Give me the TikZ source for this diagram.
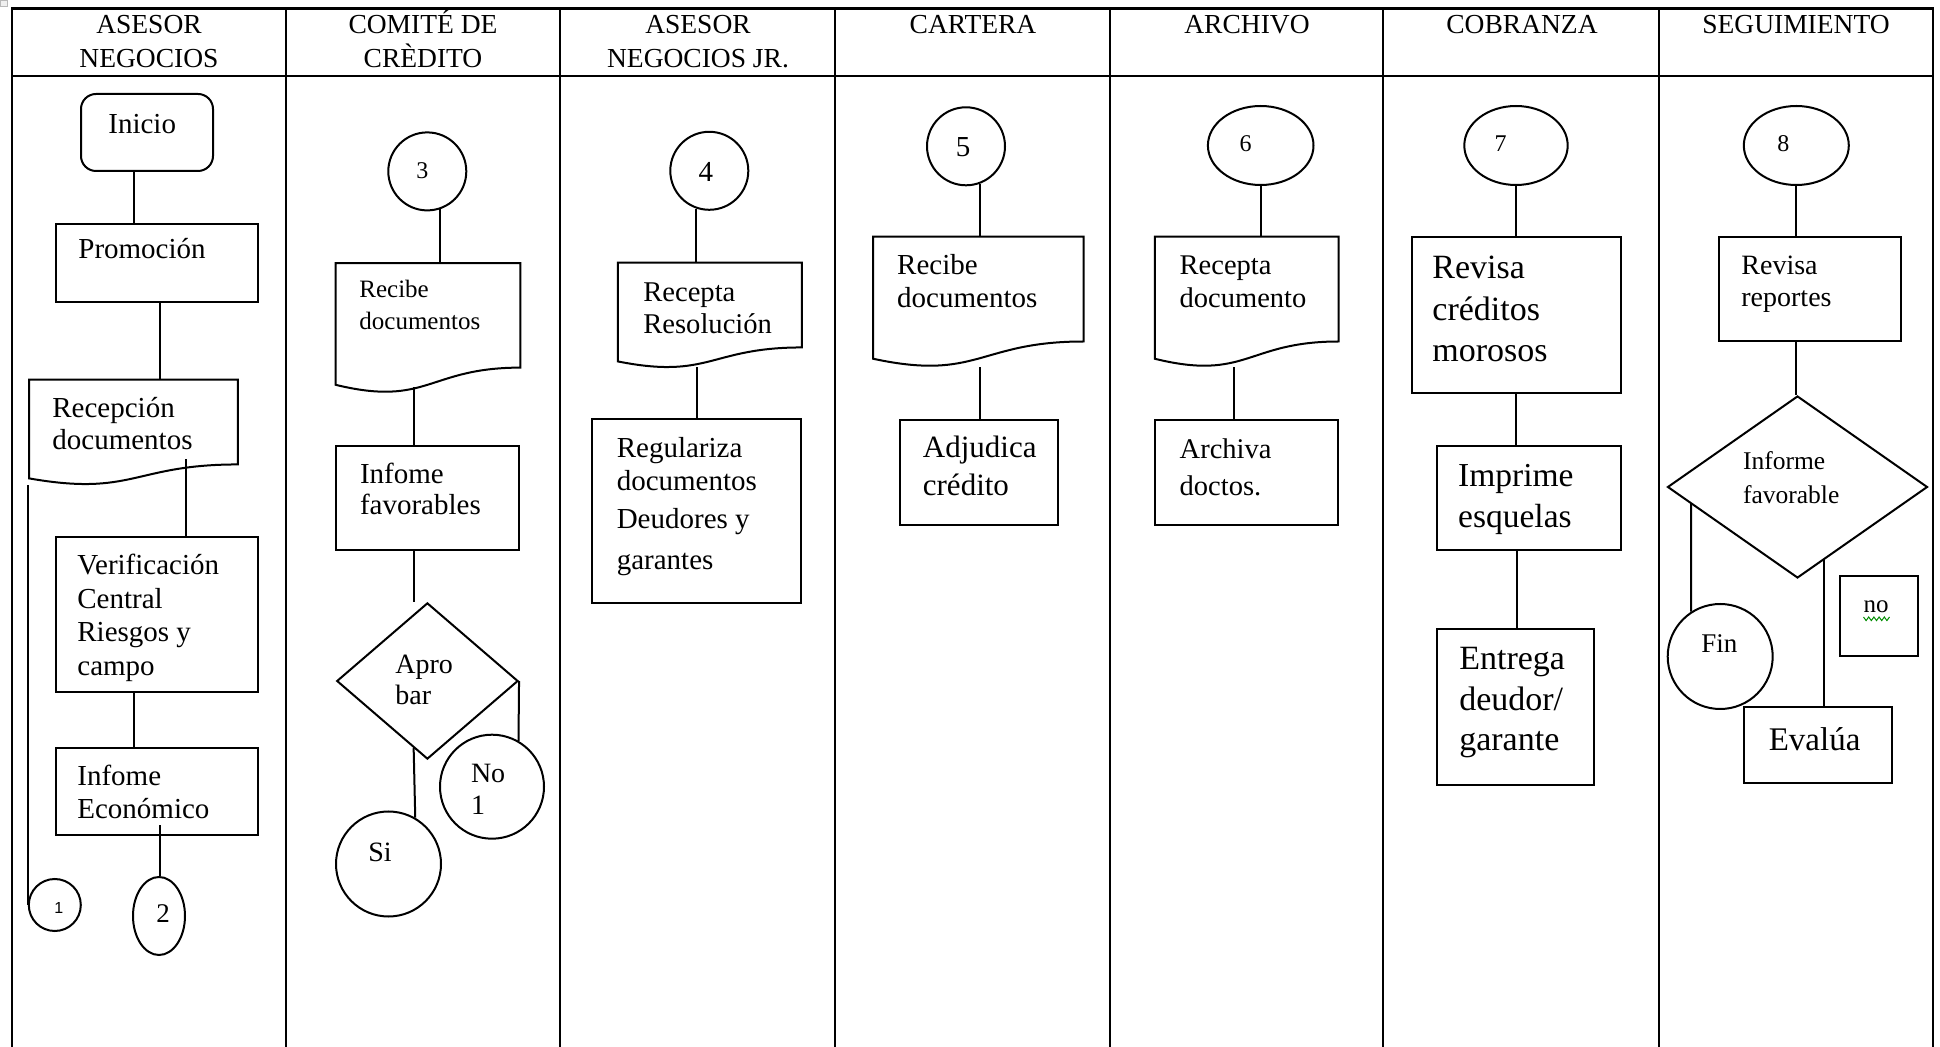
\documentclass[tikz,border=0pt]{standalone}
\usepackage{fontspec}
\setmainfont{Liberation Serif}
\newfontfamily\digitsans{Liberation Sans}
\usetikzlibrary{shapes.geometric,fit,calc}

% multi-line labels: baseline of the whole block = baseline of its first line
\newcommand\mlines[1]{\begin{tabular}[t]{@{}l@{}}#1\end{tabular}}
\newcommand\mcenter[1]{\begin{tabular}[t]{@{}c@{}}#1\end{tabular}}

% flowchart "document" outline drawn over an invisible rectangle node
\newcommand\docoutline[1]{%
  \draw[shapeline] (#1.north west) -- (#1.north east)
    -- ($(#1.north east)!0.802!(#1.south east)$)
    .. controls ($(#1.north)!0.802!(#1.south)$) and ($(#1.north)!1.107!(#1.south)$)
    .. ($(#1.north west)!0.934!(#1.south west)$) -- cycle;}

% vertical connector: start at an anchor (shifted), drop straight onto another node
\newcommand\vlink[4]{\draw[link] ($(#1)+(#2,#3)$) coordinate (vtmp) -- (vtmp |- #4);}

\tikzset{
  frame/.style={line width=1.3pt},
  shapeline/.style={line width=1pt},
  link/.style={line width=1pt},
  procbox/.style={rectangle, draw, line width=1pt, inner sep=0pt},
  docbox/.style={rectangle, draw=none, inner sep=0pt},
  startbox/.style={rectangle, draw, line width=1pt, inner sep=0pt, rounded corners=7.5pt},
  conn/.style={circle, draw, line width=1pt, inner sep=0pt, minimum size=#1},
  oval/.style 2 args={ellipse, draw, line width=1pt, inner sep=0pt, minimum width=#1, minimum height=#2},
  decision/.style 2 args={diamond, draw, line width=1pt, inner sep=0pt, minimum width=#1, minimum height=#2},
  lbl/.style 2 args={anchor=base west, inner sep=0pt, font=\fontsize{#1pt}{#2pt}\selectfont},
  head/.style={anchor=base, inner sep=0pt, font=\fontsize{13.75pt}{17pt}\selectfont},
  num/.style={inner sep=0pt, font=\fontsize{#1pt}{#1pt}\selectfont},
}

\begin{document}
\begin{tikzpicture}[x=0.5pt,y=-0.5pt]
\clip (0,0) rectangle (1940,1047);

% table handle in the corner
\draw[gray!55, fill=gray!12, line width=0.4pt] (0,0) rectangle (7,6);

% swimlane table
\draw[frame] (12,1060) -- (12,8.5) -- (1933,8.5) -- (1933,1060);
\draw[frame] (12,76) -- (1933,76);
\foreach \cx in {286,560,835,1110,1383,1659}
  \draw[frame] (\cx,8.5) -- (\cx,1060);

% lane titles
\node[head] (h1) at (149,34) {\mcenter{ASESOR\\NEGOCIOS}};
\node[head] (h2) at (423,34) {\mcenter{COMITÉ DE\\CRÈDITO}};
\node[head] (h3) at (698,34) {\mcenter{ASESOR\\NEGOCIOS JR.}};
\node[head] (h4) at (973,34) {CARTERA};
\node[head] (h5) at (1247,34) {ARCHIVO};
\node[head] (h6) at (1522,34) {COBRANZA};
\node[head] (h7) at (1796,34) {SEGUIMIENTO};

% ---------- ASESOR NEGOCIOS ----------
\node[startbox, fit={(81,94) (213,171)}] (inicio) {};
\node[lbl={14.5}{16}] at (108,134) {Inicio};
\node[procbox, fit={(55.5,224) (258,302.5)}] (promo) {};
\node[lbl={14.5}{16}] at (78,259) {Promoción};
\node[docbox, fit={(29.6,380) (237.5,485)}] (recep) {};
\docoutline{recep}
\node[lbl={14.5}{15.7}] at (52,418) {\mlines{Recepción\\documentos}};
\node[procbox, fit={(55.5,537) (258,692)}] (verif) {};
\node[lbl={14.5}{16.75}] at (77,575) {\mlines{Verificación\\Central\\Riesgos y\\campo}};
\node[procbox, fit={(55.5,748.5) (258,835.5)}] (infeco) {};
\node[lbl={14.5}{16.3}] at (77,785.6) {\mlines{Infome\\Económico}};
\node[conn=26pt] (c1) at (54.8,905) {};
\node[num=8, font=\digitsans\fontsize{8pt}{8pt}\selectfont] at ($(c1)+(4,3)$) {1};
\node[oval={26pt}{39pt}] (e2) at (159,916) {};
\node[num=13.5] at ($(e2)+(4,-2)$) {2};

\vlink{inicio.south}{-13}{0}{promo.north}
\vlink{promo.south}{3.25}{0}{recep.north}
\vlink{recep.south}{52.45}{-26}{verif.north}
\vlink{verif.south}{-22.75}{0}{infeco.north}
\vlink{infeco.south}{3.25}{-11}{e2.north}
\draw[link] (c1.west |- recep.south west) -- (c1.west);

% ---------- COMITE DE CREDITO ----------
\node[conn=39pt] (c3) at (427.3,171.4) {};
\node[num=12] at ($(c3)+(-5,-1)$) {3};
\node[docbox, fit={(336,263.6) (520,393)}] (recd1) {};
\docoutline{recd1}
\node[lbl={12.5}{16}] at (359,298) {\mlines{Recibe\\documentos}};
\node[procbox, fit={(336,445.7) (519,549.8)}] (inffav) {};
\node[lbl={14.5}{15.2}] at (359.6,484) {\mlines{Infome\\favorables}};
\node[decision={90.65pt}{78.1pt}] (apr) at (427.4,681) {};
\node[lbl={14}{15.35}] at (395,673.5) {\mlines{Apro\\bar}};
\node[conn=52pt] (no1) at (492,786.7) {};
\node[lbl={14}{15.75}] at (470.6,783) {\mlines{No\\1}};
\node[conn=52.5pt] (si) at (388.5,864) {};
\node[lbl={14}{16}] at (368,861.5) {Si};

\draw[link] (c3.-71) -- (c3.-71 |- recd1.north);
\vlink{recd1.south}{-13.6}{-6}{inffav.north}
\vlink{inffav.south}{-13.1}{0}{apr.north}
\draw[link] (apr.east) -- (no1.60);
\draw[link] ($(apr.south)!0.15!(apr.west)$) -- (si.60);

% ---------- ASESOR NEGOCIOS JR. ----------
\node[conn=39pt] (c4) at (709.3,170.8) {};
\node[num=14.5] at ($(c4)+(-3.5,1.5)$) {4};
\node[docbox, fit={(618.2,263) (801.4,368)}] (recres) {};
\docoutline{recres}
\node[lbl={14.3}{16.35}] at (642.9,301.3) {\mlines{Recepta\\Resolución}};
\node[procbox, fit={(592,419) (801.4,603)}] (reg) {};
\node[lbl={14.5}{16.2}] at (616.4,457.9)
  {\mlines{Regulariza\\documentos\\[3.15pt]Deudores y\\[4pt]garantes}};

\draw[link] (c4.-109) -- (c4.-109 |- recres.north);
\vlink{recres.south}{-13}{-1}{reg.north}

% ---------- CARTERA ----------
\node[conn=39pt] (c5) at (966,146.3) {};
\node[num=14.5] at ($(c5)+(-3,1)$) {5};
\node[docbox, fit={(873.6,237) (1083.2,367)}] (recd2) {};
\docoutline{recd2}
\node[lbl={14.5}{16.4}] at (896.8,274.8) {\mlines{Recibe\\documentos}};
\node[procbox, fit={(900.4,420) (1057.5,525)}] (adj) {};
\node[lbl={15.5}{19}] at (922.5,458) {\mlines{Adjudica\\crédito}};

\draw[link] (c5.-70) -- (c5.-70 |- recd2.north);
\vlink{recd2.south}{1.2}{0}{adj.north}

% ---------- ARCHIVO ----------
\node[oval={52.8pt}{39.5pt}] (c6) at (1260.7,145.5) {};
\node[num=12] at ($(c6)+(-15,-1.5)$) {6};
\node[docbox, fit={(1155.2,237) (1338.3,367)}] (recd3) {};
\docoutline{recd3}
\node[lbl={14.25}{16.4}] at (1179.3,274.8) {\mlines{Recepta\\documento}};
\node[procbox, fit={(1155.2,420) (1338.3,525)}] (arch) {};
\node[lbl={14.25}{18.65}] at (1179.3,458.7) {\mlines{Archiva\\doctos.}};

\draw[link] (c6.south) -- (c6.south |- recd3.north);
\vlink{recd3.south}{-12.85}{0}{arch.north}

% ---------- COBRANZA ----------
\node[oval={51.7pt}{39.5pt}] (c7) at (1516,145.5) {};
\node[num=12] at ($(c7)+(-15.4,-1.5)$) {7};
\node[procbox, fit={(1412.3,237) (1620.6,393.4)}] (rev) {};
\node[lbl={17}{20.75}] at (1432,278.8) {\mlines{Revisa\\créditos\\morosos}};
\node[procbox, fit={(1437.4,446) (1620.6,550.4)}] (imp) {};
\node[lbl={16.75}{20.5}] at (1457.8,487) {\mlines{Imprime\\esquelas}};
\node[procbox, fit={(1437.4,628.8) (1594.4,785.4)}] (ent) {};
\node[lbl={17}{20.15}] at (1458.9,670) {\mlines{Entrega\\deudor/\\garante}};

\draw[link] (c7.south) -- (c7.south |- rev.north);
\vlink{rev.south}{0}{0}{imp.north}
\vlink{imp.south}{-12.3}{0}{ent.north}

% ---------- SEGUIMIENTO ----------
\node[oval={52.5pt}{39.5pt}] (c8) at (1796.3,145.5) {};
\node[num=12] at ($(c8)+(-13,-1.5)$) {8};
\node[procbox, fit={(1718.6,237) (1900.8,340.8)}] (revrep) {};
\node[lbl={14}{15.8}] at (1741,274.8) {\mlines{Revisa\\reportes}};
\node[decision={130pt}{91pt}] (inf) at (1797.5,487) {};
\node[lbl={12.75}{16.7}] at (1742.7,470) {\mlines{Informe\\favorable}};
\node[conn=52.5pt] (fin) at (1720.2,656.5) {};
\node[lbl={13.5}{15}] at (1701,652.2) {Fin};
\node[procbox, fit={(1744.3,706.7) (1891.6,783.2)}] (eva) {};
\node[lbl={16.5}{18}] at (1768.4,751) {Evalúa};
\node[procbox, fit={(1840.2,576.5) (1918.4,655.6)}] (nobox) {};
\node[lbl={12.5}{14}] (notext) at (1863.2,613) {no};
\draw[green!55!black, line width=0.5pt] (1863.5,617)
  \foreach \k in {1,...,5} { -- ++(2.6,3.6) -- ++(2.6,-3.6) };

\draw[link] (c8.south) -- (c8.south |- revrep.north);
\vlink{revrep.south}{-13.4}{0}{inf.north}
\draw[link] ($(inf.west)!0.187!(inf.south)$) -- (fin.123);
\draw[link] ($(inf.south)!0.205!(inf.east)$) coordinate (rtmp) -- (rtmp |- eva.north);

\end{tikzpicture}
\end{document}
